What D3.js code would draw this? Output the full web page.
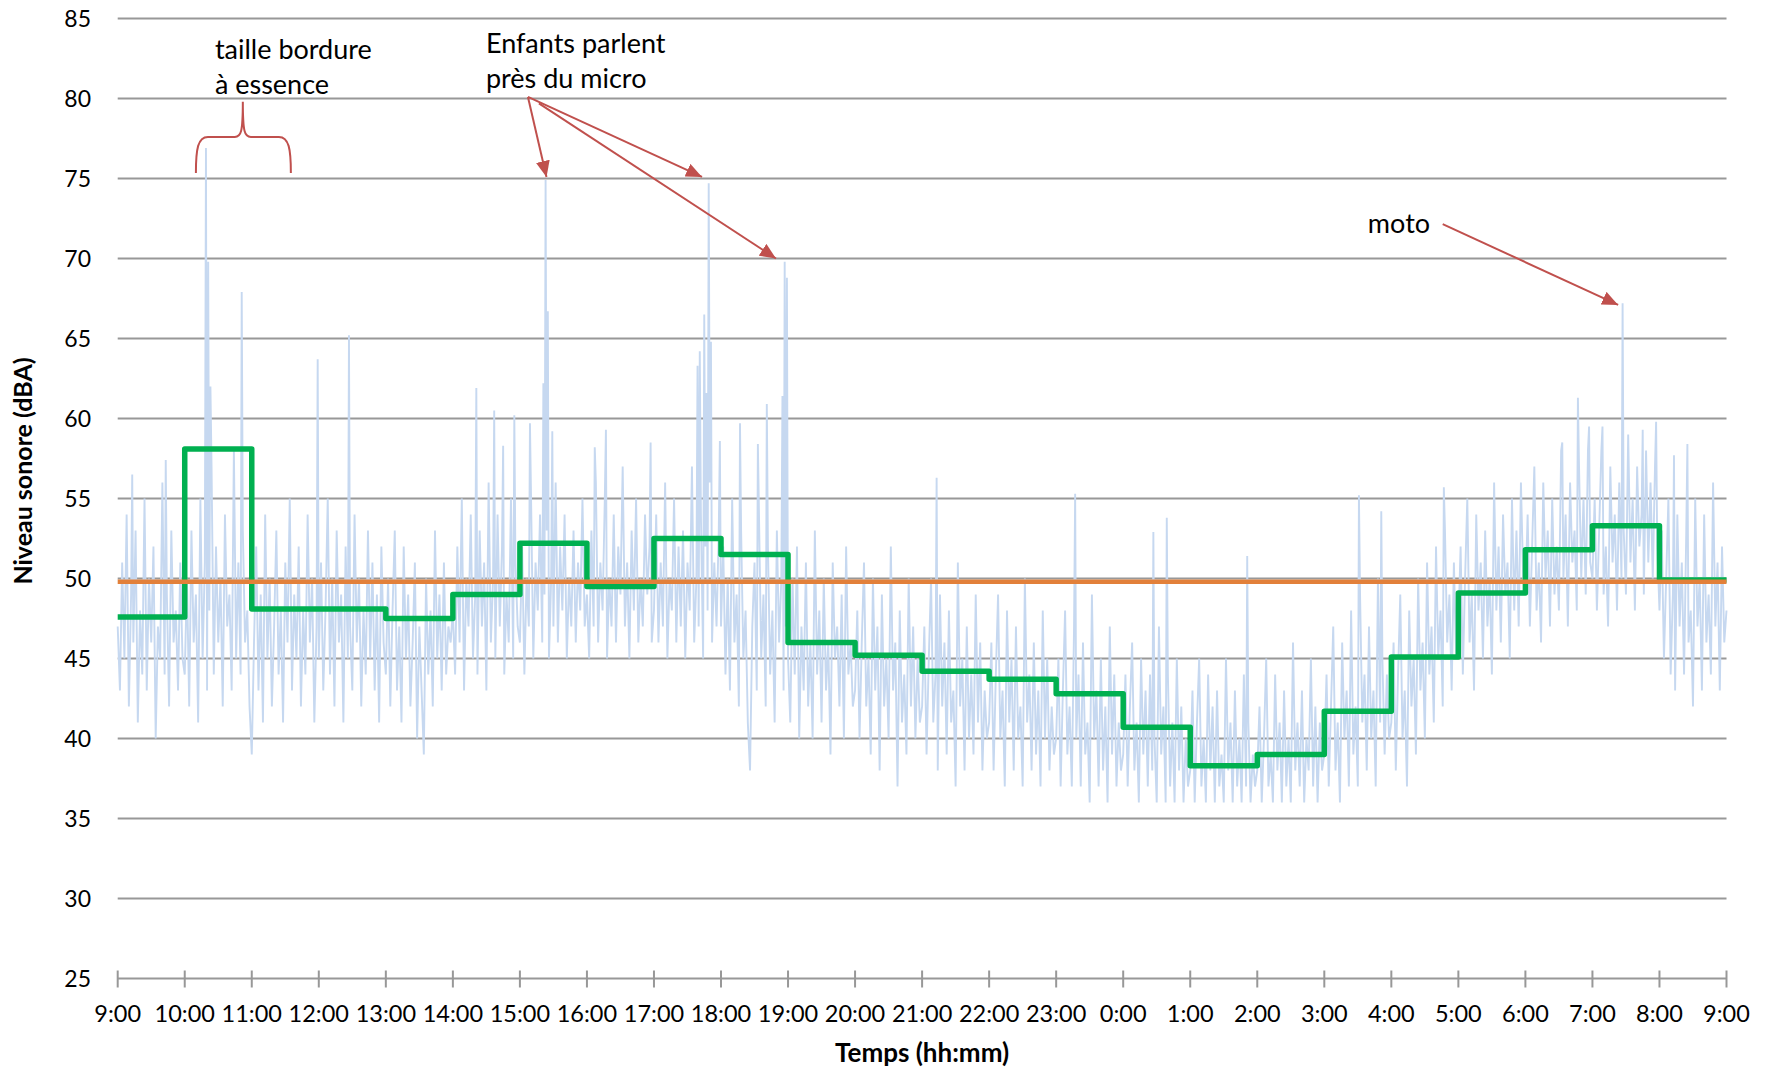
<!DOCTYPE html>
<html><head><meta charset="utf-8">
<script src="https://cdn.jsdelivr.net/npm/d3@7"></script>
<style>
html,body{margin:0;padding:0;background:#fff;}
svg text{font-family:Lato,"Open Sans",sans-serif;fill:#000;}
</style></head>
<body>
<svg id="chart" width="1774" height="1073"></svg>
<script>
// ---- Data ----
// Blue series: sound level every 2 minutes from 9:00 to 9:00 next day (dBA)
const niveau = [
 47,43,51,45,54,42,49,46,53,41,48,44,55,43,50,46,52,40,47,45,56,44,49,42,53,46,48,43,51,45, // 9h
 44,50,42,53,46,49,41,55,45,51,43,48,57,44,52,46,50,42,54,47,49,43,58,45,51,44,53,46,48,42, // 10h
 39,46,52,43,49,41,54,45,50,42,47,53,44,48,41,51,46,55,43,49,45,52,42,48,44,54,46,50,41,47, // 11h
 45,51,43,48,55,44,50,42,53,46,49,41,52,45,47,43,54,46,50,42,48,44,53,45,51,43,49,41,52,46, // 12h
 44,50,42,48,53,43,47,41,52,45,49,42,46,51,40,47,43,39,50,44,48,42,53,45,49,43,51,44,47,46, // 13h
 48,44,52,46,55,43,50,47,54,45,49,44,53,47,51,43,56,46,50,45,54,47,52,44,49,46,55,45,51,47, // 14h
 46,52,44,50,47,55,45,51,48,54,46,49,53,45,50,47,56,46,52,48,54,45,50,47,53,46,51,48,55,47, // 15h
 49,45,53,47,56,46,51,48,55,45,50,47,54,46,52,49,57,47,51,45,53,48,55,46,50,47,54,49,52,46, // 16h
 48,54,46,51,47,56,45,50,48,55,46,52,47,53,45,51,48,57,46,50,47,54,45,52,48,56,46,51,47,53, // 17h
 47,52,44,50,43,55,46,49,42,53,45,48,41,38,47,51,43,54,45,49,42,52,44,48,41,53,46,50,43,47, // 18h
 45,41,50,44,52,40,47,43,51,42,46,40,53,44,48,41,50,43,46,39,51,45,47,42,49,40,52,44,46,42, // 19h
 43,48,40,46,51,42,45,39,50,43,47,38,49,42,45,40,52,43,46,37,48,41,44,39,50,42,47,40,45,41, // 20h
 42,47,39,45,50,41,44,38,49,42,46,39,48,41,43,37,51,42,45,38,47,40,44,39,49,41,46,38,43,40, // 21h
 41,46,38,44,49,40,43,37,48,41,45,38,47,40,42,37,50,41,44,38,46,39,43,37,48,40,45,38,42,39, // 22h
 40,45,37,43,48,39,42,37,47,40,44,37,46,39,41,36,49,40,43,37,45,38,42,36,47,39,44,37,41,38, // 23h
 39,44,37,42,46,38,41,36,45,39,43,37,44,38,40,36,47,39,42,36,44,37,41,36,45,38,42,36,40,37, // 0h
 38,43,36,41,45,37,40,36,44,38,42,36,43,37,39,36,45,38,41,36,43,37,40,36,44,37,41,36,39,37, // 1h
 38,42,36,40,45,37,39,36,44,38,41,36,43,37,40,36,46,38,41,37,43,36,40,38,45,37,42,36,41,38, // 2h
 39,44,37,42,47,38,41,36,46,40,43,37,48,39,42,37,49,41,44,38,47,40,43,37,50,41,45,39,44,40, // 3h
 41,46,38,44,49,40,43,37,48,42,45,39,50,43,46,40,51,44,47,41,52,45,48,42,53,46,49,43,51,45, // 4h
 47,52,44,50,55,46,49,43,54,48,51,45,53,47,50,44,56,48,52,46,54,49,51,45,55,48,53,47,56,50, // 5h
 49,54,47,52,57,48,51,46,56,50,53,47,55,49,52,48,58,50,54,47,56,51,53,48,57,50,55,49,58,51, // 6h
 50,55,48,53,58,49,52,47,57,51,54,48,56,50,53,49,59,51,55,48,57,52,54,49,58,51,56,50,57,52, // 7h
 48,53,45,50,55,44,49,43,54,47,51,44,53,46,48,42,55,47,50,43,54,46,49,44,56,47,51,43,52,46, // 8h
 48
];
// Isolated peaks: [minutes after 9:00, dBA]
const pics = [
 [13,56.5],[43,57.4],[79,76.9],[81,69.8],[83,62],[111,67.9],[179,63.7],[207,65.2],
 [321,61.9],[337,60.5],[345,58.3],[355,60.2],[369,59.7],[381,62.2],[383,74.9],[385,66.7],[389,59.2],
 [427,58.2],[437,59.3],[477,58.5],[519,63.3],[521,64.2],[525,66.5],[527,61.6],[529,74.7],[531,64.8],
 [539,58.6],[557,59.7],[573,58.4],[581,60.9],[595,61.4],[597,69.8],[599,68.8],
 [733,56.3],[857,55.3],[927,52.9],[939,53.8],[1011,51.4],[1111,55.2],[1131,54.2],[1187,55.7],
 [1293,58.5],[1307,61.3],[1317,59.5],[1329,59.5],[1347,67.2],[1365,59.3],[1377,59.8],[1393,57.7],[1405,58.4]
];
// Green series: hourly Leq (dBA), 9:00 ... 8:00
const leqHoraire = [47.6,58.1,48.1,48.1,47.5,49.0,52.2,49.5,52.5,51.5,46.0,45.2,44.2,43.7,42.8,40.7,38.3,39.0,41.7,45.1,49.1,51.8,53.3,49.9];
// Orange series: 24 h Leq (dBA)
const leqGlobal = 49.8;
// Tick labels
const heures = ["9:00","10:00","11:00","12:00","13:00","14:00","15:00","16:00","17:00","18:00","19:00","20:00","21:00","22:00","23:00","0:00","1:00","2:00","3:00","4:00","5:00","6:00","7:00","8:00","9:00"];
const graduationsY = [25,30,35,40,45,50,55,60,65,70,75,80,85];
const titreX = "Temps (hh:mm)";
const titreY = "Niveau sonore (dBA)";
// Annotations (data coordinates: minutes after 9:00, dBA)
const textesAnnot = [
 {lignes:["taille bordure","à essence"], t:87, v:[82.5,80.3]},
 {lignes:["Enfants parlent","près du micro"], t:329.6, v:[82.85,80.65]},
 {lignes:["moto"], t:1119, v:[71.6]}
];
const flechesAnnot = [
 {de:[367.2,80.1], a:[383.8,75.1]},
 {de:[367.2,80.1], a:[523,75.1]},
 {de:[377,79.7], a:[589.2,70.0]},
 {de:[1186,72.15], a:[1343,67.1]}
];
const accolade = {t0:70, tm:112, t1:155, vBas:75.35, vBarre:77.6, vHaut:79.8};

// ---- Chart ----
const svg = d3.select("#chart");
const W = 1774, H = 1073;
svg.append("rect").attr("width",W).attr("height",H).attr("fill","#fff");

const x = d3.scaleLinear().domain([0,1440]).range([117.7,1726.5]);
const y = d3.scaleLinear().domain([25,85]).range([978.5,18.5]);

// gridlines
svg.append("g").selectAll("line").data(graduationsY).join("line")
  .attr("x1",x(0)).attr("x2",x(1440))
  .attr("y1",d=>y(d)).attr("y2",d=>y(d))
  .attr("stroke","#989898").attr("stroke-width",2);

// y labels
svg.append("g").selectAll("text").data(graduationsY).join("text")
  .attr("x",91).attr("y",d=>y(d)).attr("dy","0.36em")
  .attr("text-anchor","end").attr("font-size",23).text(d=>d);

// x ticks + labels
const tickPos = heures.map((h,i)=>i*60);
svg.append("g").selectAll("line").data(tickPos).join("line")
  .attr("x1",d=>x(d)).attr("x2",d=>x(d))
  .attr("y1",y(25)-8).attr("y2",y(25)+9)
  .attr("stroke","#989898").attr("stroke-width",2);
svg.append("g").selectAll("text").data(heures).join("text")
  .attr("x",(d,i)=>x(i*60)).attr("y",y(25)+43)
  .attr("text-anchor","middle").attr("font-size",23.5).text(d=>d);

// axis titles
svg.append("text").attr("x",(x(0)+x(1440))/2).attr("y",1062)
  .attr("text-anchor","middle").attr("font-size",26).attr("font-weight","bold").text(titreX);
svg.append("text").attr("transform",`translate(32,471) rotate(-90)`)
  .attr("text-anchor","middle").attr("font-size",25).attr("font-weight","bold").text(titreY);

// blue series
const serie = niveau.map((v,i)=>[i*2,v]).concat(pics).sort((a,b)=>a[0]-b[0]);
svg.append("path").datum(serie)
  .attr("fill","none").attr("stroke","#c6d8f0").attr("stroke-width",1.9)
  .attr("stroke-linejoin","miter").attr("stroke-miterlimit",2)
  .attr("d",d3.line().x(d=>x(d[0])).y(d=>y(d[1])));

// green hourly steps
const escalier = leqHoraire.map((v,i)=>[i*60,v]).concat([[1440,leqHoraire[leqHoraire.length-1]]]);
svg.append("path").datum(escalier)
  .attr("fill","none").attr("stroke","#00b050").attr("stroke-width",5.5)
  .attr("stroke-linejoin","round")
  .attr("d",d3.line().curve(d3.curveStepAfter).x(d=>x(d[0])).y(d=>y(d[1])));

// orange global line
svg.append("line").attr("x1",x(0)).attr("x2",x(1440))
  .attr("y1",y(leqGlobal)).attr("y2",y(leqGlobal))
  .attr("stroke","#e2803a").attr("stroke-width",4.5);

// annotations
const rouge = "#c0504d";
svg.append("defs").append("marker").attr("id","tete")
  .attr("viewBox","0 0 16 14").attr("refX",16).attr("refY",7)
  .attr("markerWidth",16).attr("markerHeight",14).attr("markerUnits","userSpaceOnUse")
  .attr("orient","auto")
  .append("path").attr("d","M0,0 L16,7 L0,14 Z").attr("fill",rouge);

svg.append("g").selectAll("line").data(flechesAnnot).join("line")
  .attr("x1",d=>x(d.de[0])).attr("y1",d=>y(d.de[1]))
  .attr("x2",d=>x(d.a[0])).attr("y2",d=>y(d.a[1]))
  .attr("stroke",rouge).attr("stroke-width",2).attr("marker-end","url(#tete)");

const a = accolade;
const bx0=x(a.t0), bxm=x(a.tm), bx1=x(a.t1), byB=y(a.vBas), byR=y(a.vBarre), byH=y(a.vHaut);
svg.append("path")
  .attr("d",`M${bx0},${byB} C${bx0},${byR+12} ${bx0+2},${byR} ${bx0+12},${byR} L${bxm-8},${byR} C${bxm-2},${byR} ${bxm},${byR-4} ${bxm},${byH}`+
            ` M${bxm},${byH} C${bxm},${byR-4} ${bxm+2},${byR} ${bxm+8},${byR} L${bx1-12},${byR} C${bx1-2},${byR} ${bx1},${byR+12} ${bx1},${byB}`)
  .attr("fill","none").attr("stroke",rouge).attr("stroke-width",2);

textesAnnot.forEach(an=>{
  an.lignes.forEach((l,k)=>{
    svg.append("text").attr("x",x(an.t)).attr("y",y(an.v[k]))
      .attr("font-size",27).text(l);
  });
});
</script>
</body></html>
